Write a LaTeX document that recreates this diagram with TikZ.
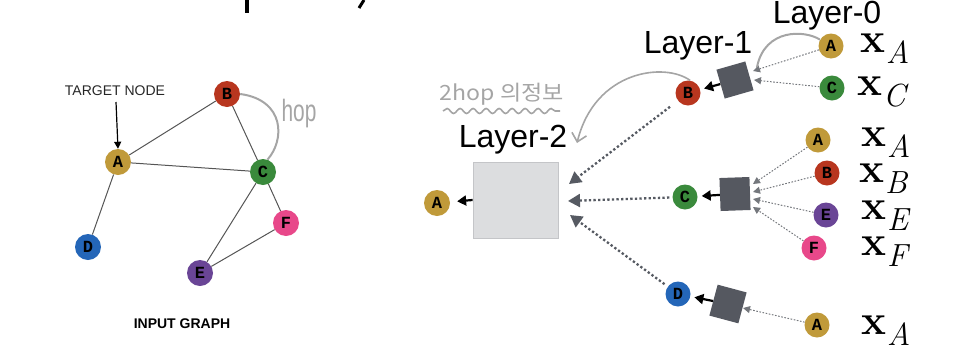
\documentclass[tikz,border=0pt]{standalone}
\usepackage{fontspec}
\usetikzlibrary{arrows.meta,decorations.pathmorphing}
\setmainfont{Latin Modern Roman}
\newfontfamily\sansf{Liberation Sans}
\newfontfamily\monof{Liberation Mono}
\newfontfamily\krf{Noto Sans CJK KR}
\definecolor{cA}{HTML}{C09A3A}
\definecolor{cB}{HTML}{B8361F}
\definecolor{cC}{HTML}{3A8A3C}
\definecolor{cD}{HTML}{2466B8}
\definecolor{cE}{HTML}{6A4596}
\definecolor{cF}{HTML}{E8488A}
\definecolor{sqc}{HTML}{555860}
\definecolor{boxfill}{HTML}{DCDDDF}
\definecolor{boxline}{HTML}{C4C5C8}
\definecolor{arcgray}{HTML}{A5A5A5}
\definecolor{dotc}{HTML}{565A62}
\definecolor{sdotc}{HTML}{74777C}
\definecolor{edgec}{HTML}{555555}
\newcommand{\xlab}[1]{{\fontsize{42}{42}\selectfont\bfseries x}\kern1pt\raisebox{-11pt}{\fontsize{32}{32}\selectfont\itshape #1}}
\tikzset{
  gnode/.style={circle, minimum size=26pt, inner sep=0pt, font={\monof\bfseries\fontsize{17}{17}\selectfont}},
  snode/.style={gnode, minimum size=25pt},
  sqbox/.style={minimum size=30pt, inner sep=0pt, fill=sqc},
  bigbox/.style={minimum width=85pt, minimum height=76pt, inner sep=0pt, fill=boxfill, draw=boxline, line width=0.8pt},
  gedge/.style={draw=edgec, line width=1pt},
  layertxt/.style={font={\sansf\fontsize{32}{32}\selectfont}, inner sep=0pt, anchor=base},
  blkarrow/.style={line width=2.2pt, -{Triangle[length=9pt,width=10pt]}},
  bigdot/.style={dotc, line width=2.3pt, dash pattern=on 2.3pt off 2.3pt, -{Triangle[length=12pt,width=13pt]}},
  smalldot/.style={sdotc, line width=1pt, dash pattern=on 1.6pt off 1.6pt, -{Triangle[length=7pt,width=7pt]}},
  grayarc/.style={arcgray, line width=2pt},
  xl/.style={inner sep=0pt, anchor=base west},
}
\begin{document}
\begin{tikzpicture}[x=1pt,y=-1pt]
\useasboundingbox (0,0) rectangle (978,346);
% cut-off title fragments
\draw[line width=3.5pt] (247,0) -- (247,13);
\draw[line width=3pt] (364,0) -- (359,8);

% ---------- input graph ----------
\node[gnode, fill=cA] (gA) at (118,162) {A};
\node[gnode, fill=cB] (gB) at (227,94) {B};
\node[gnode, fill=cC] (gC) at (263,172) {C};
\node[gnode, fill=cD] (gD) at (88,247) {D};
\node[gnode, fill=cE] (gE) at (200,273) {E};
\node[gnode, fill=cF] (gF) at (286,223) {F};
\draw[gedge] (gA) -- (gB);
\draw[gedge] (gA) -- (gC);
\draw[gedge] (gB) -- (gC);
\draw[gedge] (gA) -- (gD);
\draw[gedge] (gC) -- (gE);
\draw[gedge] (gC) -- (gF);
\draw[gedge] (gE) -- (gF);
\draw[grayarc] (gB.east) .. controls (285,100) and (285,140) .. (gC.70);
\node[text=arcgray, font={\sansf\fontsize{22}{22}\selectfont}] (hop) at (299,114) {\scalebox{0.95}[1.4]{hop}};
\node[font={\sansf\fontsize{14}{14}\selectfont}, text=black!85, inner sep=0pt] (tgt) at (115,91) {TARGET NODE};
\coordinate (tgtend) at (116,102);
\draw[line width=1.2pt, -{Triangle[length=7pt,width=7pt]}] (tgtend) -- (gA.north) ;
\node[font={\sansf\bfseries\fontsize{14}{14}\selectfont}, inner sep=0pt] (ig) at (182,324) {INPUT GRAPH};

% ---------- layer 2 ----------
\node[bigbox] (L2) at (515.5,200) {};
\node[gnode, fill=cA] (A0) at (437,203) {A};
\draw[blkarrow, shorten >=7pt] (L2.west) -- (A0);
\node[layertxt] (t2) at (513,147) {Layer-2};
\node[text=arcgray, font={\krf\fontsize{21}{21}\selectfont}, inner sep=0pt] (kr) at (502,94) {\scalebox{1.1}[1]{2hop 의정보}};
\draw[arcgray, line width=1.6pt, decorate, decoration={snake, amplitude=2.5pt, segment length=13pt}] (443,111) -- (560,111);

% ---------- layer 1 ----------
\node[layertxt] (t1) at (698,53) {Layer-1};
\node[snode, fill=cB] (B1) at (688,93) {B};
\node[snode, fill=cC] (C1) at (685,197) {C};
\node[snode, fill=cD] (D1) at (678,294) {D};
\coordinate (tb) at (569,184);
\coordinate (tc) at (568,201);
\coordinate (td) at (570,215);
\draw[bigdot, shorten <=10pt] (B1) -- (tb);
\draw[bigdot, shorten <=3pt] (C1) -- (tc);
\draw[bigdot, shorten <=4pt] (D1) -- (td);
\coordinate (arcend) at (577,143);
\draw[arcgray, line width=1.6pt, -{Straight Barb[length=8pt,width=15pt]}] (B1.80) .. controls (665,62) and (595,70) .. (arcend);

\node[sqbox, rotate=16] (s1) at (735,80) {};
\node[sqbox, rotate=2, minimum height=33pt] (s2) at (735,194) {};
\node[sqbox, rotate=-15, minimum height=32pt] (s3) at (728,304) {};
\draw[blkarrow, shorten >=4pt] (s1) -- (B1);
\draw[blkarrow, shorten >=4pt] (s2) -- (C1);
\draw[blkarrow, shorten >=4pt] (s3) -- (D1);

% ---------- layer 0 ----------
\node[layertxt] (t0) at (827,23) {Layer-0};
\node[snode, fill=cA] (A1) at (831,46) {A};
\node[snode, fill=cC] (C0) at (832,88) {C};
\node[snode, fill=cA] (A2) at (818,140) {A};
\node[snode, fill=cB] (B0) at (827,173) {B};
\node[snode, fill=cE] (E0) at (826,215) {E};
\node[snode, fill=cF] (F0) at (814,248) {F};
\node[snode, fill=cA] (A3) at (817,325) {A};
\coordinate (q1) at (753,71);
\coordinate (q2) at (754,80);
\coordinate (q3) at (753,184);
\coordinate (q4) at (753,192);
\coordinate (q5) at (753,199);
\coordinate (q6) at (753,207);
\coordinate (q7) at (743,308);
\draw[smalldot] (A1) -- (q1);
\draw[smalldot] (C0) -- (q2);
\draw[smalldot] (A2) -- (q3);
\draw[smalldot] (B0) -- (q4);
\draw[smalldot] (E0) -- (q5);
\draw[smalldot] (F0) -- (q6);
\draw[smalldot] (A3) -- (q7);
\coordinate (garcend) at (757,67);
\draw[grayarc] (A1.150) .. controls (805,30) and (765,28) .. (garcend);

\node[xl] (xA1) at (860,52) {\xlab{A}};
\node[xl] (xC) at (857,95) {\xlab{C}};
\node[xl] (xA2) at (861,146) {\xlab{A}};
\node[xl] (xB) at (859,182) {\xlab{B}};
\node[xl] (xE) at (861,219) {\xlab{E}};
\node[xl] (xF) at (861,255) {\xlab{F}};
\node[xl] (xA3) at (861,334) {\xlab{A}};
\end{tikzpicture}
\end{document}
